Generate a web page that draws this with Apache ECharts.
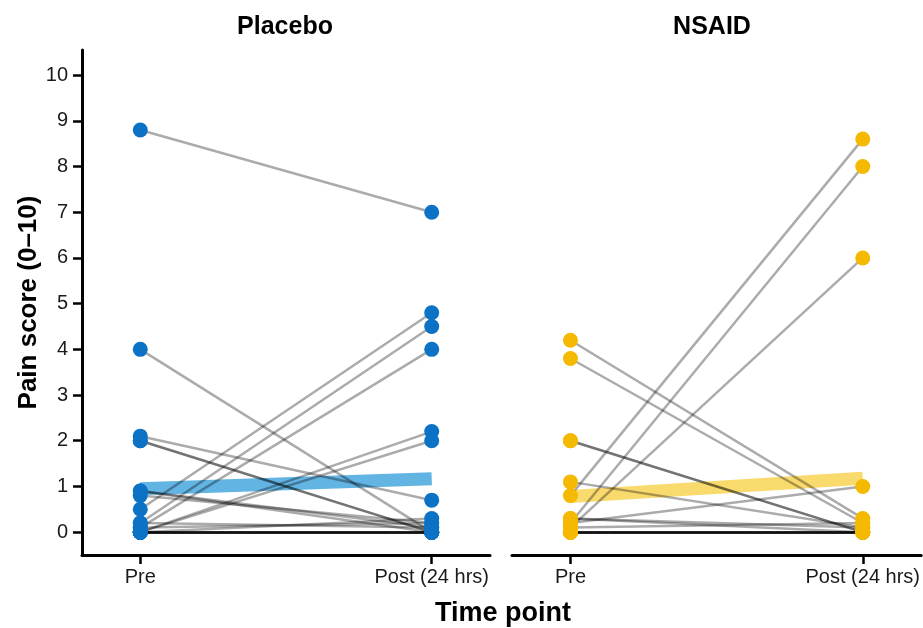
<!DOCTYPE html>
<html>
<head>
<meta charset="utf-8">
<script src="https://cdn.jsdelivr.net/npm/echarts@6/dist/echarts.min.js"></script>
<style>
  html, body { margin: 0; padding: 0; background: #fff; }
  #chart { width: 923px; height: 628px; }
</style>
</head>
<body>
<div id="chart"></div>
<script>
// time points
var timePoints = ['Pre', 'Post (24 hrs)'];
var yTicks = [0, 1, 2, 3, 4, 5, 6, 7, 8, 9, 10];

// each participant: pre score, post score
var placeboPre  = [8.8, 4.0, 2.1, 2.0, 2.0, 0.9, 0.8, 0.5, 0.2, 0.1, 0.0, 0.0, 0.9, 0.0, 0.0, 0.0, 0.0, 0.0, 0.0, 0.0, 0.0, 0.1, 0.2];
var placeboPost = [7.0, 0.0, 0.7, 0.0, 0.0, 0.1, 0.2, 4.8, 4.5, 4.0, 2.2, 2.0, 0.0, 0.3, 0.0, 0.0, 0.0, 0.0, 0.0, 0.0, 0.0, 0.2, 0.1];
var nsaidPre    = [4.2, 3.8, 2.0, 2.0, 1.1, 0.8, 0.2, 0.1, 0.2, 0.3, 0.0, 0.0, 0.0, 0.0, 0.0, 0.0, 0.0, 0.1, 0.3];
var nsaidPost   = [0.3, 0.2, 0.0, 0.0, 0.1, 8.6, 8.0, 6.0, 1.0, 0.1, 0.0, 0.0, 0.0, 0.0, 0.0, 0.0, 0.0, 0.2, 0.0];

// group means (thick band)
var placeboMean = [0.95, 1.17];
var nsaidMean   = [0.78, 1.18];

var blue = '#0b72c6';
var yellow = '#f4b900';

function pairLines(pre, post) {
    var out = [];
    pre.forEach(function (v, i) {
        out.push({ coords: [[0, v], [1, post[i]]] });
    });
    return out;
}
function dots(pre, post) {
    var out = [];
    pre.forEach(function (v, i) {
        out.push([0, v]);
        out.push([1, post[i]]);
    });
    return out;
}

var tickLabelStyle = {
    color: '#1a1a1a',
    fontSize: 20,
    fontFamily: 'Liberation Sans'
};

function xAxis(idx) {
    return {
        type: 'value',
        gridIndex: idx,
        min: -0.2,
        max: 1.2,
        splitLine: { show: false },
        axisLine: { onZero: false, lineStyle: { color: '#000', width: 3 } },
        axisTick: { show: true, customValues: [0, 1], length: 9, lineStyle: { color: '#000', width: 2.5 } },
        axisLabel: Object.assign({
            customValues: [0, 1],
            margin: 12,
            formatter: function (v) { return timePoints[v]; }
        }, tickLabelStyle)
    };
}

var option = {
    animation: false,
    title: [
        { text: 'Placebo', left: 280, top: 10, textAlign: 'center',
          textStyle: { fontSize: 25, fontWeight: 'bold', color: '#000', fontFamily: 'Liberation Sans' } },
        { text: 'NSAID', left: 707, top: 10, textAlign: 'center',
          textStyle: { fontSize: 25, fontWeight: 'bold', color: '#000', fontFamily: 'Liberation Sans' } },
        { text: 'Time point', left: 498, top: 595, textAlign: 'center',
          textStyle: { fontSize: 27, fontWeight: 'bold', color: '#000', fontFamily: 'Liberation Sans' } }
    ],
    grid: [
        { left: 82, right: 433, top: 50, height: 505 },
        { left: 512, right: 0, top: 50, height: 505 }
    ],
    xAxis: [xAxis(0), xAxis(1)],
    yAxis: [{
        type: 'value',
        gridIndex: 0,
        min: -0.5,
        max: 10.55,
        name: 'Pain score (0–10)',
        nameLocation: 'middle',
        nameGap: 40,
        nameTextStyle: { fontSize: 26, fontWeight: 'bold', color: '#000', fontFamily: 'Liberation Sans' },
        splitLine: { show: false },
        axisLine: { show: true, onZero: false, lineStyle: { color: '#000', width: 3 } },
        axisTick: { show: true, customValues: yTicks, length: 9, lineStyle: { color: '#000', width: 2.5 } },
        axisLabel: Object.assign({ customValues: yTicks, margin: 14 }, tickLabelStyle)
    }, {
        type: 'value',
        gridIndex: 1,
        min: -0.5,
        max: 10.55,
        show: false,
        splitLine: { show: false }
    }],
    series: [
        // mean bands
        {
            type: 'line', xAxisIndex: 0, yAxisIndex: 0, z: 1,
            data: [[0, placeboMean[0]], [1, placeboMean[1]]],
            symbol: 'none',
            lineStyle: { color: '#62b4e2', width: 13, cap: 'butt' }
        },
        {
            type: 'line', xAxisIndex: 1, yAxisIndex: 1, z: 1,
            data: [[0, nsaidMean[0]], [1, nsaidMean[1]]],
            symbol: 'none',
            lineStyle: { color: '#f9da6c', width: 13, cap: 'butt' }
        },
        // individual participants
        {
            type: 'lines', coordinateSystem: 'cartesian2d', xAxisIndex: 0, yAxisIndex: 0, z: 2,
            data: pairLines(placeboPre, placeboPost),
            lineStyle: { color: '#000', width: 2.5, opacity: 0.33 }
        },
        {
            type: 'lines', coordinateSystem: 'cartesian2d', xAxisIndex: 1, yAxisIndex: 1, z: 2,
            data: pairLines(nsaidPre, nsaidPost),
            lineStyle: { color: '#000', width: 2.5, opacity: 0.33 }
        },
        {
            type: 'scatter', xAxisIndex: 0, yAxisIndex: 0, z: 3,
            data: dots(placeboPre, placeboPost),
            symbolSize: 15,
            itemStyle: { color: blue, opacity: 1 }
        },
        {
            type: 'scatter', xAxisIndex: 1, yAxisIndex: 1, z: 3,
            data: dots(nsaidPre, nsaidPost),
            symbolSize: 15,
            itemStyle: { color: yellow, opacity: 1 }
        }
    ]
};

var chart = echarts.init(document.getElementById('chart'));
chart.setOption(option);
</script>
</body>
</html>
